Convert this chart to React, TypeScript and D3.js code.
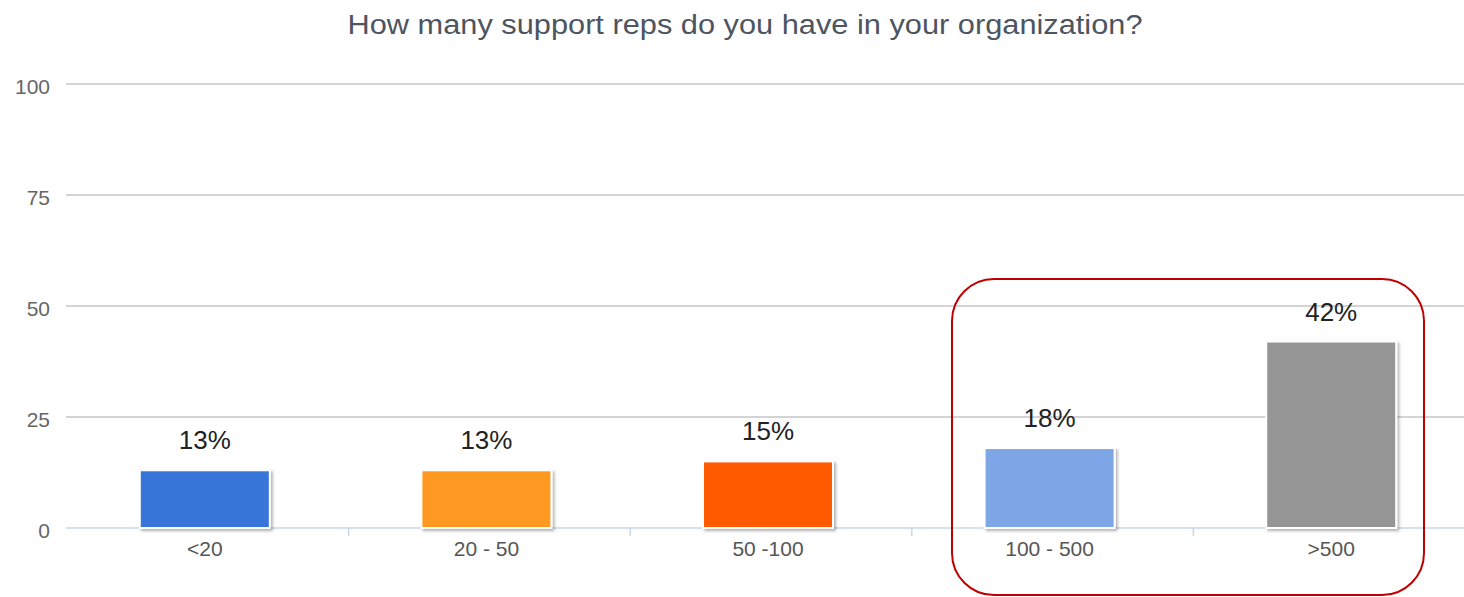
import React from "react";
import * as d3 from "d3";

const categories = ["<20", "20 - 50", "50 -100", "100 - 500", ">500"];
const values = [13, 13, 15, 18, 42];
const colors = ["#3874d8", "#ff9922", "#ff5a05", "#7ea5e6", "#969696"];
const yTicks = [0, 25, 50, 75, 100];
const title = "How many support reps do you have in your organization?";

export default function App() {
  const W = 1464, H = 597;
  const left = 67, bandW = 281.6;
  const x = d3.scaleBand<string>().domain(categories).range([left, left + bandW * categories.length]).paddingInner(0).paddingOuter(0);
  const y = d3.scaleLinear().domain([0, 100]).range([528, 84]);
  const barW = 130;
  const barShift = -3;
  return (
    <svg width={W} height={H} style={{ position: "absolute", left: 0, top: 0 }} fontFamily="Liberation Sans, Arial, sans-serif">
      <defs>
        <filter id="sh" x="-10%" y="-10%" width="130%" height="130%">
          <feDropShadow dx="2" dy="2" stdDeviation="1.5" floodColor="#000" floodOpacity="0.3" />
        </filter>
      </defs>
      <rect width={W} height={H} fill="#fff" />
      <text x={745} y={34} textAnchor="middle" fontSize={27} fill="#4d5561" textLength={795} lengthAdjust="spacingAndGlyphs">{title}</text>
      {yTicks.map((t) => (
        <g key={t}>
          {t > 0 && <line x1={66} x2={W} y1={y(t)} y2={y(t)} stroke="#c6c6c6" strokeWidth={1.5} />}
          <text x={50} y={y(t) + 10} textAnchor="end" fontSize={21} fill="#666">{t}</text>
        </g>
      ))}
      <line x1={66} x2={W} y1={y(0)} y2={y(0)} stroke="#c9d7ea" strokeWidth={1.5} />
      {categories.slice(1).map((c) => (
        <line key={c} x1={x(c)!} x2={x(c)!} y1={y(0)} y2={y(0) + 8} stroke="#c9d7ea" strokeWidth={1.5} />
      ))}
      {categories.map((c, i) => {
        const cx = x(c)! + x.bandwidth() / 2 + barShift;
        return (
          <g key={c}>
            <rect x={cx - barW / 2} y={y(values[i])} width={barW} height={y(0) - y(values[i])} fill={colors[i]} stroke="#fff" strokeWidth={2} filter="url(#sh)" />
            <text x={cx} y={y(values[i]) - 21} textAnchor="middle" fontSize={26} fill="#222">{values[i]}%</text>
            <text x={cx} y={y(0) + 28} textAnchor="middle" fontSize={21} fill="#555">{c}</text>
          </g>
        );
      })}
      <rect x={952} y={279} width={472} height={316} rx={42} ry={42} fill="none" stroke="#c00000" strokeWidth={2} />
    </svg>
  );
}
